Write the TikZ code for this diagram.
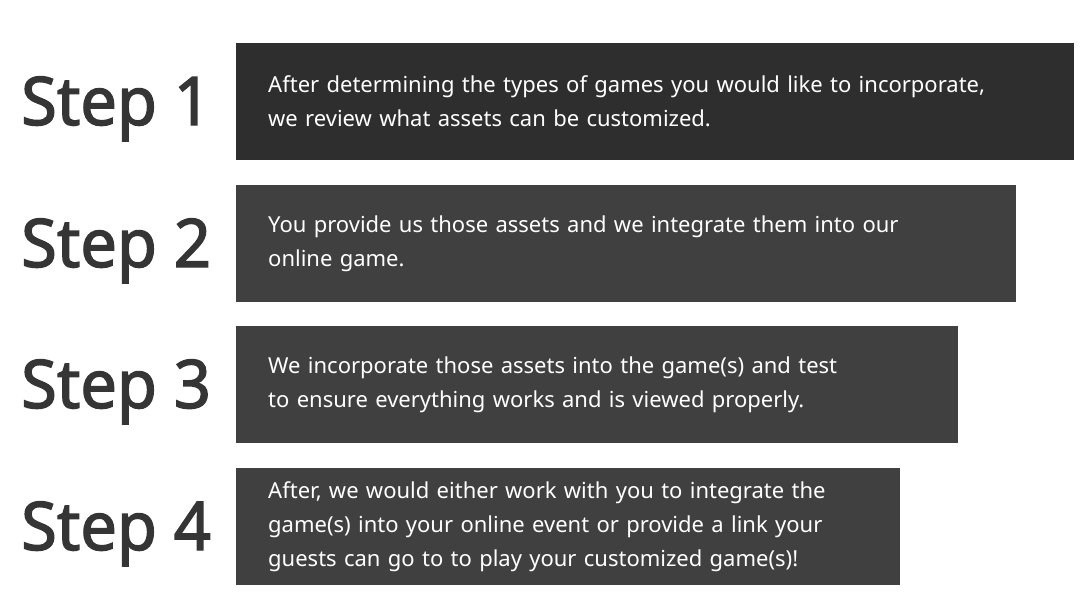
\documentclass[tikz,border=0pt]{standalone}
\usepackage{fontspec}
\setmainfont{Noto Sans}
\newfontfamily\stepfont[FakeBold=2, FakeStretch=0.97]{Noto Sans}
\usepackage{tikz}
\usetikzlibrary{positioning}
\definecolor{labelgray}{HTML}{353535}
\definecolor{boxdark}{HTML}{2E2E2E}
\definecolor{boxgray}{HTML}{404040}
\tikzstyle{steplabel} = [anchor=base west, inner sep=0pt, text=labelgray,
font=\stepfont\fontsize{67}{67}\selectfont]
\tikzstyle{stepbox} = [rectangle, anchor=west, minimum height=117pt, inner xsep=32pt,
inner ysep=0pt, align=left, text=white, fill=boxgray,
font=\fontsize{22}{34}\selectfont]

\begin{document}
\begin{tikzpicture}[x=1pt, y=-1pt]
\useasboundingbox (0,0) rectangle (1086,607);

% ------------------------- boxes -------------------------

% ----- box: 1
\node(box1)[stepbox, fill=boxdark, minimum width=838pt, text width=774pt] at (236,101.5)
{After determining the types of games you would like to incorporate,\\we review what assets can be customized.};
% ----- box: 2
\node(box2)[stepbox, minimum width=780pt, text width=716pt] at (236,243.5)
{You provide us those assets and we integrate them into our\\online game.};
% ----- box: 3
\node(box3)[stepbox, minimum width=722pt, text width=658pt] at (236,384.5)
{We incorporate those assets into the game(s) and test\\to ensure everything works and is viewed properly.};
% ----- box: 4
\node(box4)[stepbox, minimum width=664pt, text width=600pt] at (236,526.5)
{After, we would either work with you to integrate the\\game(s) into your online event or provide a link your\\guests can go to to play your customized game(s)!};

% ------------------------- labels -------------------------
\node(step1)[steplabel] at (21,125) {Step 1};
\node(step2)[steplabel] at (21,267) {Step 2};
\node(step3)[steplabel] at (21,408) {Step 3};
\node(step4)[steplabel] at (21,550) {Step 4};

\end{tikzpicture}
\end{document}
